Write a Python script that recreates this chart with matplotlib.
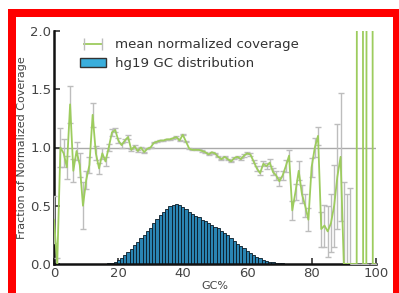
import matplotlib
matplotlib.use("Agg")
import matplotlib.pyplot as plt
import numpy as np
from matplotlib.lines import Line2D
from matplotlib.patches import Patch, Rectangle

# GC% positions for the coverage curve and for the genome histogram
gc = np.arange(0, 101)
hist_gc = np.arange(15, 76)

# mean normalized coverage per GC%
coverage = [0.38, 0.0, 1.0, 0.95, 0.83, 1.37, 0.8, 0.97, 0.85, 0.5,
            0.72, 0.85, 1.28, 0.95, 0.82, 0.95, 0.88, 1.0, 1.13, 1.15,
            1.06, 1.02, 1.06, 1.09, 0.98, 1.01, 0.97, 1.0, 0.96, 0.99,
            1.0, 1.04, 1.05, 1.06, 1.06, 1.07, 1.07, 1.08, 1.09, 1.06,
            1.11, 1.05, 0.99, 0.98, 0.98, 0.98, 0.97, 0.96, 0.94, 0.96,
            0.95, 0.92, 0.9, 0.92, 0.9, 0.88, 0.91, 0.92, 0.9, 0.93,
            0.95, 0.94, 0.88, 0.82, 0.78, 0.86, 0.84, 0.87, 0.79, 0.76,
            0.71, 0.76, 0.84, 0.93, 0.46, 0.62, 0.8, 0.6, 0.5, 0.38,
            0.83, 1.0, 1.1, 0.3, 0.33, 0.28, 0.35, 0.5, 0.75, 0.92,
            0.0, 0.0, 0.0, 0.0, 0.0, 40.0, 0.0, 0.0, 40.0, 0.0,
            0.0]

coverage_err = [0.2, 0.05, 0.17, 0.12, 0.1, 0.16, 0.1, 0.08, 0.1, 0.2,
                0.08, 0.07, 0.1, 0.06, 0.05, 0.05, 0.04, 0.03, 0.03, 0.02,
                0.02, 0.02, 0.015, 0.015, 0.01, 0.01, 0.01, 0.005, 0.005, 0.005,
                0.005, 0.005, 0.005, 0.005, 0.005, 0.005, 0.005, 0.005, 0.005, 0.005,
                0.005, 0.005, 0.005, 0.005, 0.005, 0.005, 0.005, 0.005, 0.005, 0.005,
                0.005, 0.005, 0.005, 0.005, 0.005, 0.005, 0.005, 0.01, 0.01, 0.01,
                0.01, 0.015, 0.015, 0.02, 0.02, 0.02, 0.025, 0.03, 0.03, 0.035,
                0.04, 0.04, 0.05, 0.05, 0.08, 0.07, 0.08, 0.08, 0.1, 0.1,
                0.08, 0.08, 0.08, 0.15, 0.18, 0.22, 0.25, 0.35, 0.45, 0.55,
                0.7, 0.6, 0.65, 0.0, 0.0, 0.0, 0.0, 0.0, 0.0, 0.0,
                0.0]

# hg19 GC distribution (fraction, GC 15..75)
hist_frac = [0.002, 0.003, 0.005, 0.01, 0.02, 0.035, 0.055, 0.08, 0.10, 0.13,
             0.16, 0.19, 0.22, 0.25, 0.28, 0.31, 0.35, 0.39, 0.42, 0.45,
             0.475, 0.495, 0.51, 0.515, 0.505, 0.49, 0.47, 0.45, 0.43, 0.415,
             0.40, 0.38, 0.365, 0.35, 0.335, 0.32, 0.305, 0.285, 0.265, 0.245,
             0.22, 0.20, 0.175, 0.155, 0.135, 0.115, 0.095, 0.078, 0.062, 0.048,
             0.036, 0.027, 0.02, 0.014, 0.01, 0.007, 0.005, 0.003, 0.002, 0.001,
             0.001]

green = "#9dcc5e"
grey = "#bdbdbd"
bar_blue = "#2a84b2"
legend_blue = "#3aaedc"

fig = plt.figure(figsize=(3.99, 2.93), dpi=100)
fig.patch.set_facecolor("white")

# red screenshot frame (top, left and right bands)
def red_band(x0, y0, x1, y1):
    fig.patches.append(Rectangle((x0 / 399, 1 - y1 / 293), (x1 - x0) / 399,
                                 (y1 - y0) / 293, transform=fig.transFigure,
                                 facecolor="red", edgecolor="none", zorder=0))

red_band(8, 9, 399, 17)
red_band(8, 9, 16, 293)
red_band(393, 9, 399, 293)

ax = fig.add_axes([54 / 399, 1 - 264 / 293, (376 - 54) / 399, (264 - 31) / 293])

ax.bar(hist_gc, hist_frac, width=1.0, color=bar_blue, edgecolor="#0a1a25",
       linewidth=0.6, zorder=2)

ax.axhline(1.0, color="#aaaaaa", linewidth=1, zorder=1)

ax.errorbar(gc, coverage, yerr=coverage_err, color=green, linewidth=1.3,
            ecolor=grey, elinewidth=1, capsize=2, capthick=1, zorder=3)

ax.set_xlim(0, 100)
ax.set_ylim(0, 2.0)
ax.set_xticks([0, 20, 40, 60, 80, 100])
ax.set_yticks([0.0, 0.5, 1.0, 1.5, 2.0])
ax.set_yticklabels(["0.0", "0.5", "1.0", "1.5", "2.0"])
ax.tick_params(direction="in", labelsize=9.5, width=1.2, length=4,
               colors="#333333", labelcolor="#444444", pad=2)
for side in ["top", "right"]:
    ax.spines[side].set_visible(False)
for side in ["left", "bottom"]:
    ax.spines[side].set_linewidth(1.8)
    ax.spines[side].set_color("#111111")

ax.set_xlabel("GC%", fontsize=8, color="#444444", labelpad=1)
ax.set_ylabel("Fraction of Normalized Coverage", fontsize=8, color="#444444",
              labelpad=2)

err_handle = (Line2D([], [], color=green, linewidth=1.3),
              Line2D([], [], color=grey, marker="|", linestyle="none",
                     markersize=8, markeredgewidth=1))
bar_handle = Patch(facecolor=legend_blue, edgecolor="#333333", linewidth=1)
ax.legend([err_handle, bar_handle],
          ["mean normalized coverage", "hg19 GC distribution"],
          loc="upper left", bbox_to_anchor=(0.045, 1.02), frameon=False,
          fontsize=9.6, numpoints=2, handlelength=1.9, labelspacing=0.45,
          handletextpad=0.7, labelcolor="#333333")

fig.savefig("out.png", dpi=100)
